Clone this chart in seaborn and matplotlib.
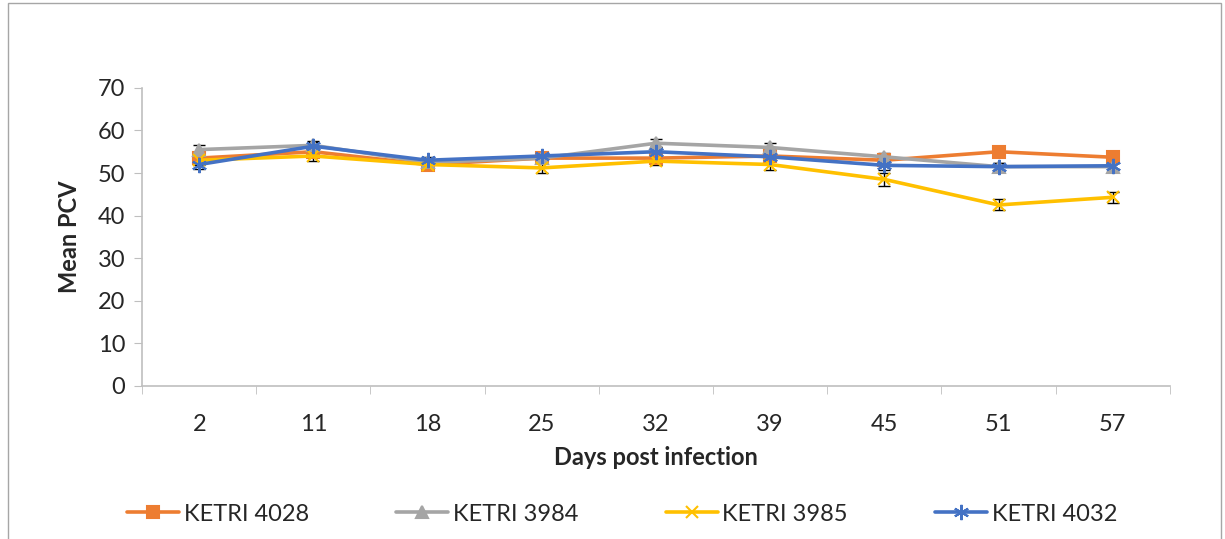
import numpy as np
import pandas as pd
import seaborn as sns
import matplotlib.pyplot as plt
from matplotlib.patches import Rectangle

days = ['2', '11', '18', '25', '32', '39', '45', '51', '57']
ketri_4028 = [53.5, 55.0, 52.0, 53.5, 53.5, 54.0, 53.0, 55.0, 53.7]
ketri_3984 = [55.5, 56.5, 52.5, 53.5, 57.0, 56.0, 53.8, 51.5, 51.5]
ketri_3985 = [53.0, 54.0, 52.0, 51.2, 52.8, 52.0, 48.5, 42.5, 44.3]
ketri_4032 = [52.0, 56.3, 53.0, 54.0, 55.0, 53.8, 51.8, 51.5, 51.7]
err_3985 = [1.0, 1.2, 0.8, 1.2, 1.0, 1.2, 1.5, 1.3, 1.3]
err_other = [1.0, 1.0, 0.8, 1.0, 1.0, 1.0, 1.0, 0.8, 0.8]

names = ['KETRI 4028', 'KETRI 3984', 'KETRI 3985', 'KETRI 4032']
series = [ketri_4028, ketri_3984, ketri_3985, ketri_4032]
colors = ['#ED7D31', '#A5A5A5', '#FFC000', '#4472C4']
markers = ['s', '^', 'x', (6, 2, 0)]

sns.set_style('white')
plt.rcParams['font.family'] = ['Lato', 'DejaVu Sans']

fig = plt.figure(figsize=(12.25, 5.39), dpi=100)
ax = fig.add_axes([0.116, 0.284, 0.839, 0.553])

pos = list(range(len(days)))

# error bars first (black caps)
for n, vals in zip(names, series):
    e = err_3985 if n == 'KETRI 3985' else err_other
    ax.errorbar(pos, vals, yerr=e, fmt='none', ecolor='black',
                elinewidth=1, capsize=4, zorder=1)

for n, vals, c, m in zip(names, series, colors, markers):
    df = pd.DataFrame({'pos': pos, 'pcv': vals})
    ms = 11 if m == (6, 2, 0) else 9
    sns.lineplot(data=df, x='pos', y='pcv', color=c, marker=m,
                 linewidth=2.6, markersize=ms, markeredgewidth=1.5,
                 markeredgecolor=c, ax=ax, label=n, zorder=2)

ax.set_xlim(-0.5, len(days) - 0.5)
ax.set_ylim(0, 70)
ax.set_yticks(range(0, 71, 10))
ax.set_xticks(pos)
ax.set_xticklabels(days)
ax.set_xticks(np.arange(-0.5, len(days), 1), minor=True)
ax.tick_params(axis='x', which='major', length=0, labelsize=17, pad=20)
ax.tick_params(axis='x', which='minor', length=6, color='#BFBFBF', direction='out')
ax.tick_params(axis='y', length=6, color='#BFBFBF', direction='out', labelsize=17, pad=6)
ax.tick_params(axis='both', bottom=True, left=True, which='both')

for s in ['top', 'right']:
    ax.spines[s].set_visible(False)
for s in ['left', 'bottom']:
    ax.spines[s].set_color('#BFBFBF')
    ax.spines[s].set_linewidth(1.2)

ax.set_xlabel('Days post infection', fontsize=17, fontweight='bold', labelpad=8)
ax.set_ylabel('Mean PCV', fontsize=17, fontweight='bold', labelpad=12)

ax.legend(loc='center', bbox_to_anchor=(0.467, -0.43), ncol=4, frameon=False,
          fontsize=17, handlelength=2.2, columnspacing=3.7, handletextpad=0.2)

fig.patches.append(Rectangle((8 / 1225, -0.01), 1213 / 1225, 1 - 3 / 539 + 0.01,
                             transform=fig.transFigure, fill=False,
                             edgecolor='#A6A6A6', linewidth=1))

fig.savefig('out.png', dpi=100)
